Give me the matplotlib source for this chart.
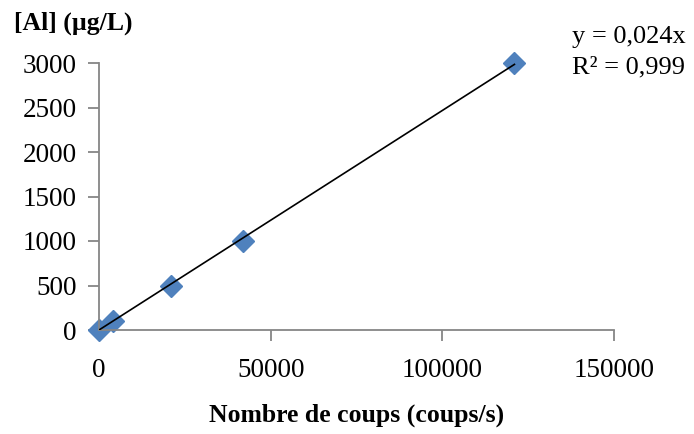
import matplotlib.pyplot as plt
import numpy as np

# calibration points
counts = [0, 4000, 21000, 42000, 121000]
conc_al = [0, 100, 500, 1000, 3000]
x_ticks = [0, 50000, 100000, 150000]
y_ticks = [0, 500, 1000, 1500, 2000, 2500, 3000]

plt.rcParams['font.family'] = ['Liberation Serif', 'DejaVu Serif']

fig = plt.figure(figsize=(6.94, 4.34), dpi=100)
ax = fig.add_axes([99 / 694, 104 / 434, 515 / 694, 267 / 434])

# linear fit forced through origin
x = np.array(counts, dtype=float)
y = np.array(conc_al, dtype=float)
slope = (x * y).sum() / (x * x).sum()
xfit = np.array([0, x.max()])
ax.plot(xfit, slope * xfit, color='black', lw=1.2, zorder=3)

ax.plot(counts, conc_al, linestyle='none', marker='D', markersize=11,
        color='#4F81BD', markeredgecolor='#4F81BD', zorder=2, clip_on=False)

ax.set_xlim(0, 150000)
ax.set_ylim(0, 3000)
ax.set_xticks(x_ticks)
ax.set_yticks(y_ticks)

for s in ['top', 'right']:
    ax.spines[s].set_visible(False)
for s in ['left', 'bottom']:
    ax.spines[s].set_color('#868686')
    ax.spines[s].set_linewidth(1.3)
ax.tick_params(axis='both', colors='#868686', length=8, width=1.3,
               labelcolor='black', labelsize=19.5)
ax.tick_params(axis='x', pad=12)
ax.tick_params(axis='y', pad=8)

ax.set_xlabel('Nombre de coups (coups/s)', fontsize=18.5, fontweight='bold', labelpad=15)
fig.text(14 / 694, 1 - 23 / 434, '[Al] (µg/L)', fontsize=18.5, fontweight='bold',
         va='center', ha='left')

fig.text(572 / 694, 1 - 37 / 434, 'y = 0,024x', fontsize=19, va='center', ha='left')
fig.text(572 / 694, 1 - 67 / 434, 'R² = 0,999', fontsize=19, va='center', ha='left')

fig.savefig('out.png', dpi=100)
